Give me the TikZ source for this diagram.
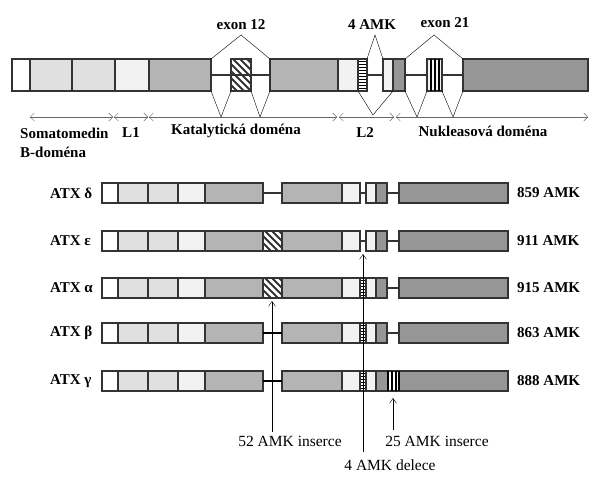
\documentclass[tikz,border=0pt]{standalone}
\usepackage{fontspec}
\setmainfont{Liberation Serif}
\usetikzlibrary{patterns,arrows.meta}
\definecolor{gA}{HTML}{E0E0E0}
\definecolor{gB}{HTML}{F2F2F2}
\definecolor{gC}{HTML}{B4B4B4}
\definecolor{gD}{HTML}{969696}
\tikzset{
	seg/.style={draw=black!80, line width=1.1pt},
	lnk/.style={draw=black!80, line width=1.1pt},
	lbl/.style={font=\fontsize{15}{17}\selectfont\bfseries, inner sep=1pt},
	note/.style={font=\fontsize{15.5}{17}\selectfont, inner sep=1pt},
	dom/.style={{Straight Barb[length=4pt,width=8pt]}-{Straight Barb[length=4pt,width=8pt]}, draw=black!60, thin},
	pf/.style={-{Straight Barb[length=5pt,width=7pt]}, thin}
}
\newcommand\schraff[4]{%
	\begin{scope}
		\clip (#1,#2) rectangle (#3,#4);
		\foreach \k in {-40,-33,...,40} \draw[line width=1.8pt, black!80] (#1+\k,#2) -- ++(40,40);
	\end{scope}
	\draw[seg] (#1,#2) rectangle (#3,#4);
}
\begin{document}
\begin{tikzpicture}[x=1pt, y=-1pt]
	\useasboundingbox (0,0) rectangle (610,500);
	% Oberer Balken
	\draw[lnk] (211,75) -- (270,75);
	\draw[lnk] (367,75) -- (383,75);
	\draw[lnk] (405,75) -- (463,75);
	\draw[seg, fill=white] (12,59) rectangle (30,91);
	\draw[seg, fill=gA] (30,59) rectangle (72,91);
	\draw[seg, fill=gA] (72,59) rectangle (115,91);
	\draw[seg, fill=gB] (115,59) rectangle (149,91);
	\draw[seg, fill=gC] (149,59) rectangle (211,91);
	\schraff{231}{59}{251}{91}
	\draw[seg, fill=gC] (270,59) rectangle (338,91);
	\draw[seg, fill=gB] (338,59) rectangle (358,91);
	\draw[seg, pattern=horizontal lines] (358,59) rectangle (367,91);
	\draw[seg, fill=gB] (383,59) rectangle (393,91);
	\draw[seg, fill=gD] (393,59) rectangle (405,91);
	\draw[seg, fill=gB] (427,59) rectangle (442,91);
	\draw[line width=1.5pt] (431,59) -- (431,91) (435,59) -- (435,91) (439,59) -- (439,91);
	\draw[seg, fill=gD] (463,59) rectangle (588,91);
	% Spleissboegen
	\draw[thin] (211,59) -- (241,35) -- (270,59);
	\draw[thin] (211,91) -- (221,117) -- (231,91);
	\draw[thin] (251,91) -- (260,117) -- (270,91);
	\draw[thin] (367,59) -- (375,35) -- (383,59);
	\draw[thin] (358,91) -- (373,115) -- (393,91);
	\draw[thin] (405,59) -- (434,35) -- (463,59);
	\draw[thin] (405,91) -- (417,117) -- (427,91);
	\draw[thin] (442,91) -- (453,117) -- (463,91);
	\node[lbl] (ex12) at (241,25) {exon 12};
	\node[lbl] (amk4) at (372,25) {4 AMK};
	\node[lbl] (ex21) at (445,23) {exon 21};
	% Domaenen
	\draw[dom] (30,117) -- (113,117);
	\draw[dom] (114,117) -- (148,117);
	\draw[dom] (149,117) -- (337,117);
	\draw[dom] (339,117) -- (394,117);
	\draw[dom] (396,117) -- (588,117);
	\node[lbl, anchor=west] (somat) at (19,133) {Somatomedin};
	\node[lbl, anchor=west] (bdom) at (19,152) {B-doména};
	\node[lbl] (lone) at (131,133) {L1};
	\node[lbl] (kat) at (236,131) {Katalytická doména};
	\node[lbl] (ltwo) at (365,133) {L2};
	\node[lbl] (nuk) at (483,131) {Nukleasová doména};
	% Isoformen
	\foreach \yy/\nm/\len in {183/δ/859, 231/ε/911, 278/α/915, 323/β/863, 371/γ/888} {
		\node[lbl, anchor=west] at (49,\yy+10) {ATX \nm};
		\node[lbl, anchor=west] at (516,\yy+10) {\len{} AMK};
		\draw[seg, fill=white] (102,\yy) rectangle (118,\yy+20);
		\draw[seg, fill=gA] (118,\yy) rectangle (148,\yy+20);
		\draw[seg, fill=gA] (148,\yy) rectangle (178,\yy+20);
		\draw[seg, fill=gB] (178,\yy) rectangle (205,\yy+20);
		\draw[seg, fill=gC] (205,\yy) rectangle (263,\yy+20);
		\draw[seg, fill=gC] (282,\yy) rectangle (342,\yy+20);
		\draw[seg, fill=gB] (342,\yy) rectangle (360,\yy+20);
		\draw[seg, fill=gB] (366,\yy) rectangle (376,\yy+20);
	}
	% delta
	\draw[lnk] (263,193) -- (282,193);
	\draw[lnk] (360,193) -- (366,193);
	\draw[seg, fill=gD] (376,183) rectangle (387,203);
	\draw[lnk] (387,193) -- (399,193);
	\draw[seg, fill=gD] (399,183) rectangle (508,203);
	% epsilon
	\schraff{263}{231}{282}{251}
	\draw[lnk] (360,241) -- (366,241);
	\draw[seg, fill=gD] (376,231) rectangle (387,251);
	\draw[lnk] (387,241) -- (399,241);
	\draw[seg, fill=gD] (399,231) rectangle (508,251);
	% alpha
	\schraff{263}{278}{282}{298}
	\draw[seg, pattern=horizontal lines] (360,278) rectangle (366,298);
	\draw[seg, fill=gD] (376,278) rectangle (387,298);
	\draw[lnk] (387,288) -- (399,288);
	\draw[seg, fill=gD] (399,278) rectangle (508,298);
	% beta
	\draw[line width=2pt] (263,333) -- (282,333);
	\draw[seg, pattern=horizontal lines] (360,323) rectangle (366,343);
	\draw[seg, fill=gD] (376,323) rectangle (387,343);
	\draw[lnk] (387,333) -- (399,333);
	\draw[seg, fill=gD] (399,323) rectangle (508,343);
	% gamma
	\draw[line width=2pt] (263,381) -- (282,381);
	\draw[seg, pattern=horizontal lines] (360,371) rectangle (366,391);
	\draw[seg, fill=gD] (376,371) rectangle (508,391);
	\fill[white] (388,372) rectangle (399,390);
	\draw[line width=1.2pt] (388,371) -- (388,391) (392,371) -- (392,391) (396,371) -- (396,391) (399,371) -- (399,391);
	% Pfeile
	\node[note] (ins52) at (290,441) {52 AMK inserce};
	\node[note] (ins25) at (437,441) {25 AMK inserce};
	\node[note] (del4) at (390,465) {4 AMK delece};
	\coordinate (tip52) at (272,301);
	\coordinate (tip4) at (363,254);
	\coordinate (tip25) at (393,398);
	\draw[pf] (272,432) -- (tip52);
	\draw[pf] (363,452) -- (tip4);
	\draw[pf] (393,430) -- (tip25);
\end{tikzpicture}
\end{document}
